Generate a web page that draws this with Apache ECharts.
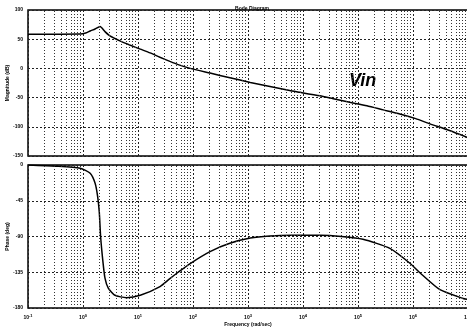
<!DOCTYPE html>
<html><head><meta charset="utf-8">
<script src="https://cdn.jsdelivr.net/npm/echarts@6/dist/echarts.min.js"></script>
<style>html,body{margin:0;padding:0;background:#fff;overflow:hidden}#c{width:467px;height:327px}</style>
</head><body><div id="c"></div>
<script>
// Magnitude data (frequency in rad/sec, magnitude in dB)
const magFreq = [0.1, 0.38, 0.89, 1.12, 1.35, 1.66, 2.04, 2.51, 3.09, 4.68, 7.08, 11, 16.6, 25.1, 38, 53.7, 89, 204, 468, 1100, 2510, 5750, 8910, 20400, 35500, 70800, 145000, 288000, 575000, 1120000, 2040000, 4470000, 9550000, 1e7];
const magDb   = [58.5, 58.5, 58.7, 60.5, 64, 67.5, 71.7, 63, 55.6, 47.1, 40, 33, 26.5, 19, 12, 6.5, 0, -8, -16, -24, -31, -38, -41, -47, -52, -58, -64, -71, -78, -86, -95, -106, -118, -119];
// Phase data (frequency in rad/sec, phase in degrees)
const phFreq = [0.1, 0.316, 0.89, 1.35, 1.66, 1.85, 1.98, 2.09, 2.29, 2.51, 2.88, 3.8, 6.17, 11, 25.1, 38, 53.7, 89, 204, 468, 1100, 2510, 6310, 20400, 50100, 123000, 380000, 891000, 1350000, 3090000, 8130000, 1e7];
const phDeg  = [0, -1.5, -4, -10.4, -23, -40, -60, -90, -120, -142.5, -155, -164, -167, -164, -153, -143, -135, -124, -109, -98.6, -92, -89.4, -88.5, -88.5, -90, -93.5, -105, -124, -136, -157, -168, -169];
// Axis settings
const freqMin = 0.1, freqMax = 1e7;
const magMin = -150, magMax = 100, magStep = 50;
const phMin = -180, phMax = 0, phStep = 45;
const minorMult = [2,3,4,5,6,7,8,9];
const decades = [-1,0,1,2,3,4,5,6];

const minorLines = [];
decades.forEach(k => minorMult.forEach(m => minorLines.push({xAxis: m * Math.pow(10, k)})));

const font = 'Liberation Sans';
const tinyLabel = {fontSize: 5, fontWeight: 'bold', color: '#000', fontFamily: font};
const gridLine = {show: true, lineStyle: {type: [2, 2], color: '#222', width: 1}};
const minorMark = {
  silent: true, symbol: 'none', label: {show: false},
  lineStyle: {type: [1, 2], color: '#333', width: 1}, data: minorLines, animation: false
};
function pairs(xs, ys){ return xs.map((x,i)=>[x, ys[i]]); }

const chart = echarts.init(document.getElementById('c'), null, {renderer: 'canvas'});
chart.setOption({
  animation: false,
  backgroundColor: '#fff',
  title: {text: 'Bode Diagram', left: 247, textAlign: 'center', top: 1,
    textStyle: {fontSize: 5, fontWeight: 'bold', color: '#000', fontFamily: font}},
  grid: [
    {left: 28, right: -1, top: 10, height: 146, show: true, borderColor: '#000', borderWidth: 1.5, backgroundColor: 'transparent', outerBoundsMode: 'none', containLabel: false},
    {left: 28, right: -1, top: 165, height: 143, show: true, borderColor: '#000', borderWidth: 1.5, backgroundColor: 'transparent', outerBoundsMode: 'none', containLabel: false}
  ],
  xAxis: [
    {type: 'log', logBase: 10, gridIndex: 0, min: freqMin, max: freqMax,
     axisLine: {show: false}, axisTick: {show: false}, axisLabel: {show: false}, splitLine: gridLine},
    {type: 'log', logBase: 10, gridIndex: 1, min: freqMin, max: freqMax,
     axisLine: {show: false}, axisTick: {show: false}, splitLine: gridLine,
     name: 'Frequency (rad/sec)', nameLocation: 'middle', nameGap: 14, nameTextStyle: tinyLabel, nameMoveOverlap: false,
     axisLabel: {margin: 6, formatter: v => '{b|10}{e|' + Math.round(Math.log10(v)) + '}',
       rich: {b: {fontSize: 5, fontWeight: 'bold', fontFamily: font, color: '#000'},
              e: {fontSize: 4, fontWeight: 'bold', fontFamily: font, color: '#000', verticalAlign: 'top', padding: [0,0,4,0]}}}}
  ],
  yAxis: [
    {type: 'value', gridIndex: 0, min: magMin, max: magMax, interval: magStep,
     axisLine: {show: false}, axisTick: {show: false}, splitLine: gridLine,
     axisLabel: Object.assign({margin: 5}, tinyLabel),
     name: 'Magnitude (dB)', nameLocation: 'middle', nameRotate: 90, nameGap: 18, nameMoveOverlap: false, nameTextStyle: tinyLabel},
    {type: 'value', gridIndex: 1, min: phMin, max: phMax, interval: phStep,
     axisLine: {show: false}, axisTick: {show: false}, splitLine: gridLine,
     axisLabel: Object.assign({margin: 5}, tinyLabel),
     name: 'Phase (deg)', nameLocation: 'middle', nameRotate: 90, nameGap: 18, nameMoveOverlap: false, nameTextStyle: tinyLabel}
  ],
  series: [
    {type: 'line', xAxisIndex: 0, yAxisIndex: 0, data: pairs(magFreq, magDb), showSymbol: false,
     smooth: 0.2, lineStyle: {color: '#000', width: 1.5}, markLine: minorMark},
    {type: 'line', xAxisIndex: 1, yAxisIndex: 1, data: pairs(phFreq, phDeg), showSymbol: false,
     smooth: 0.2, lineStyle: {color: '#000', width: 1.5}, markLine: minorMark}
  ],
  graphic: [
    {type: 'text', left: 349, top: 72, style: {text: 'Vin', fontSize: 18, fontStyle: 'italic', fontWeight: 'bold', fontFamily: font, fill: '#000'}}
  ]
});
</script></body></html>
